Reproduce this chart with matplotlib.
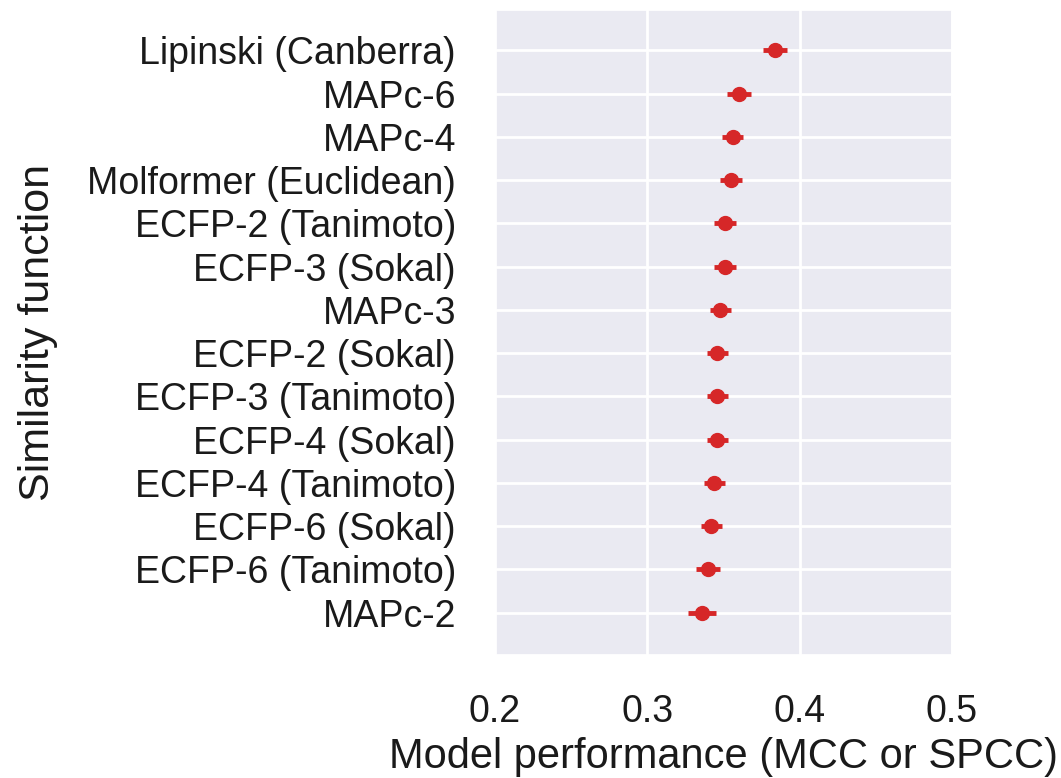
import numpy as np
import matplotlib.pyplot as plt
import seaborn as sns

# Similarity functions, ordered from best to worst
names = ['Lipinski (Canberra)', 'MAPc-6', 'MAPc-4', 'Molformer (Euclidean)',
         'ECFP-2 (Tanimoto)', 'ECFP-3 (Sokal)', 'MAPc-3', 'ECFP-2 (Sokal)',
         'ECFP-3 (Tanimoto)', 'ECFP-4 (Sokal)', 'ECFP-4 (Tanimoto)',
         'ECFP-6 (Sokal)', 'ECFP-6 (Tanimoto)', 'MAPc-2']
perf = [0.384, 0.360, 0.356, 0.355, 0.351, 0.351, 0.348, 0.346,
        0.346, 0.346, 0.344, 0.342, 0.340, 0.336]
err = [0.008, 0.008, 0.007, 0.007, 0.007, 0.007, 0.007, 0.007,
       0.007, 0.007, 0.007, 0.007, 0.008, 0.009]

sns.set_theme(style='darkgrid')
plt.rcParams['font.family'] = ['Liberation Sans', 'DejaVu Sans']
plt.rcParams['text.color'] = '#1a1a1a'
plt.rcParams['xtick.color'] = '#1a1a1a'
plt.rcParams['ytick.color'] = '#1a1a1a'
plt.rcParams['axes.labelcolor'] = '#1a1a1a'

fig = plt.figure(figsize=(10.61, 7.78), dpi=100)
ax = fig.add_axes([0.4665, 0.158, 0.4308, 0.829])

y = np.arange(len(names))
ax.errorbar(perf, y, xerr=err, fmt='o', color='#d62728', ms=10,
            elinewidth=3.5, capsize=0)

ax.set_yticks(y)
ax.set_yticklabels(names, fontsize=27)
ax.set_ylim(len(names) - 1 + 0.98, -0.93)
ax.set_xlim(0.2, 0.5)
ax.set_xticks([0.2, 0.3, 0.4, 0.5])
ax.set_xticklabels(['0.2', '0.3', '0.4', '0.5'], fontsize=27)
ax.tick_params(axis='y', pad=22)
ax.tick_params(axis='x', pad=22)
ax.grid(True, color='white', linewidth=2)

ax.set_xlabel('Model performance (MCC or SPCC)', fontsize=30)
ax.set_ylabel('Similarity function', fontsize=31)
ax.xaxis.set_label_coords(0.5, -0.127)
ax.yaxis.set_label_coords(-0.955, 0.5)

fig.savefig('out.png', dpi=100)
